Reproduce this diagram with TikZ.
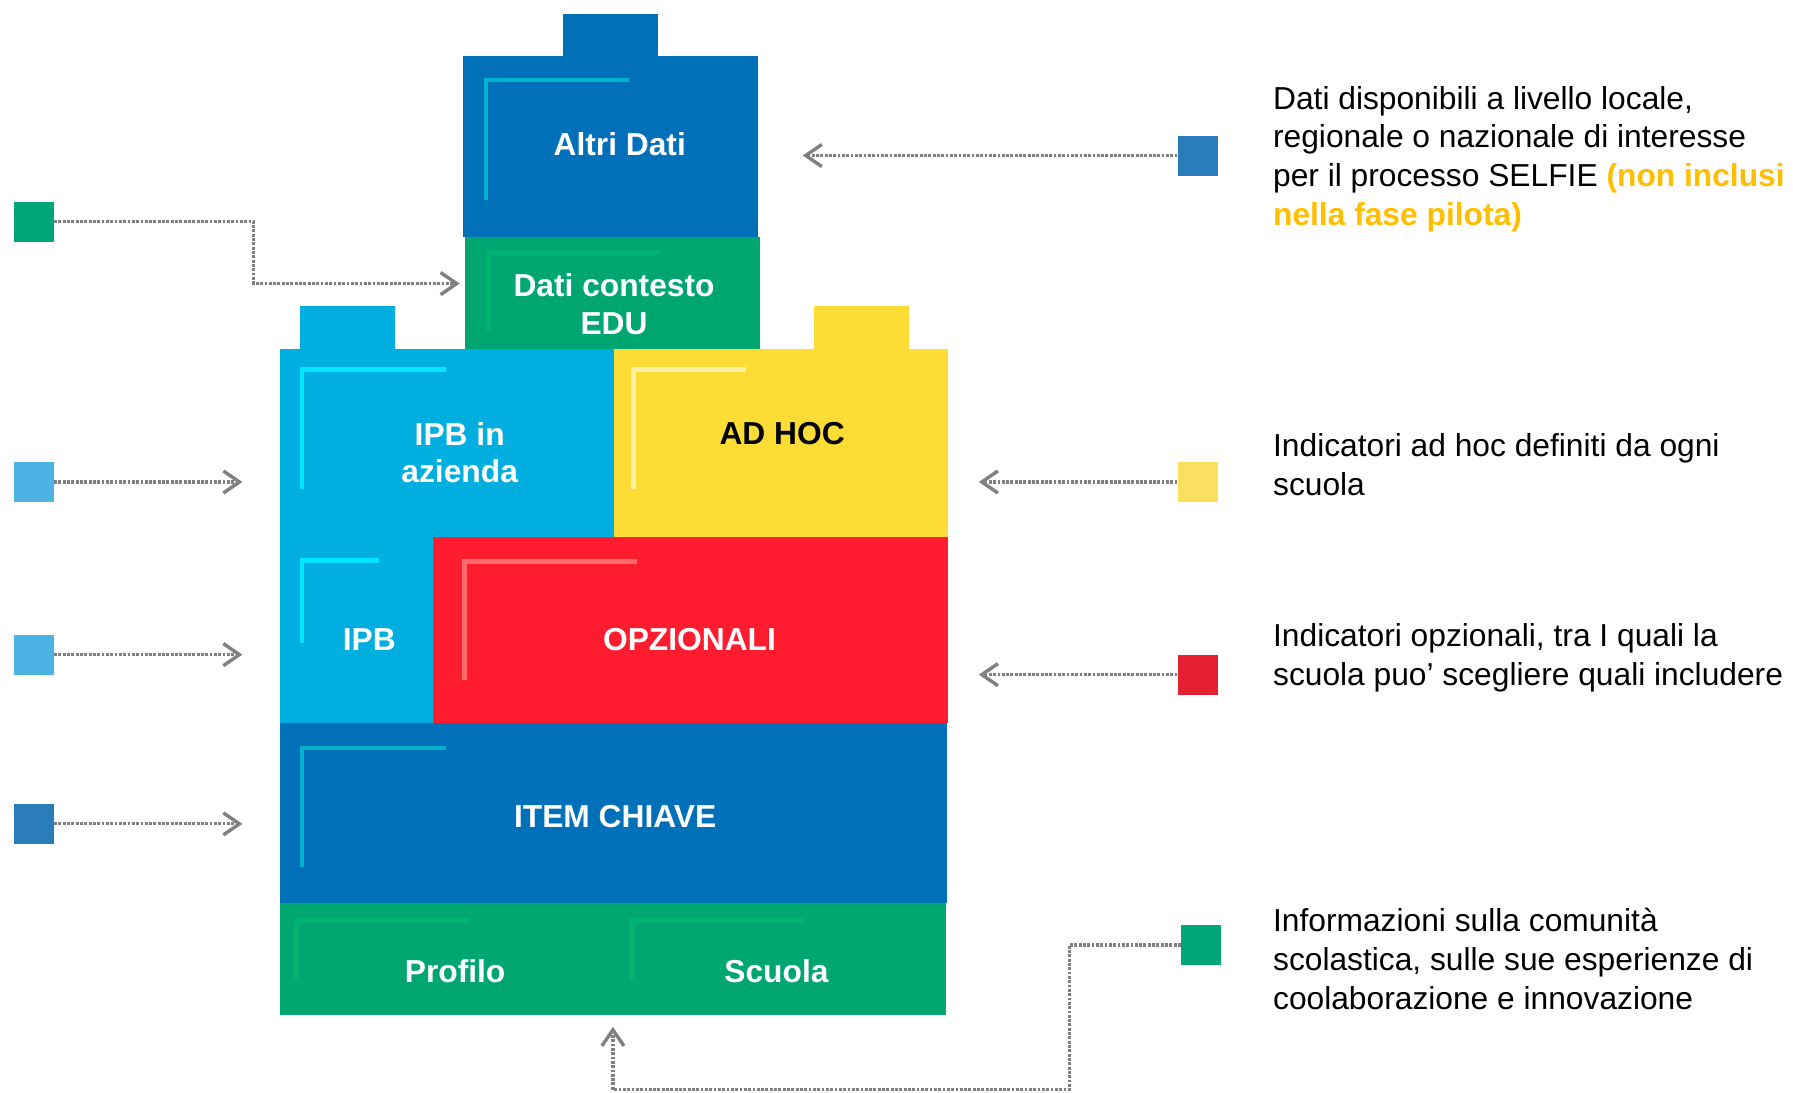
\documentclass[tikz,border=0pt]{standalone}
\usepackage{fontspec}
\setmainfont{Liberation Sans}
\usetikzlibrary{arrows.meta}
\definecolor{dblue}{HTML}{0070B8}
\definecolor{mgreen}{HTML}{00A670}
\definecolor{lblue}{HTML}{00AEE0}
\definecolor{myell}{HTML}{FDDC36}
\definecolor{mred}{HTML}{FF1C2E}
\definecolor{acteal}{HTML}{00B2CC}
\definecolor{acgreen}{HTML}{00B374}
\definecolor{accyan}{HTML}{00E6FF}
\definecolor{acyell}{HTML}{FFF0A8}
\definecolor{acred}{HTML}{FF6A6A}
\definecolor{sqgreen}{HTML}{00A676}
\definecolor{sqlblue}{HTML}{4BB4E2}
\definecolor{sqblue}{HTML}{2A7DBA}
\definecolor{sqyell}{HTML}{FAE05E}
\definecolor{sqred}{HTML}{E42032}
\definecolor{orng}{HTML}{FFBE00}
\definecolor{cgray}{HTML}{808080}
\tikzset{
  sq/.style={draw=none,minimum size=0.7cm,inner sep=0pt},
  lbl/.style={font=\bfseries\fontsize{15.8}{18.7}\selectfont,text=white,align=center,inner sep=0pt},
  desc/.style={font=\fontsize{15.8}{19.3}\selectfont,align=left,anchor=north west,inner sep=0pt},
  conn/.style={cgray,line width=1.6pt,dash pattern=on 1.4pt off 0.75pt,
    -{Straight Barb[length=8pt,width=11pt,line width=1.7pt]}},
  accent/.style={line width=0.08cm}
}
\begin{document}
\begin{tikzpicture}[x=0.02cm,y=-0.02cm]
\useasboundingbox (0,0) rectangle (1568,955);
% ---- blocks ----
\fill[dblue] (492,12) rectangle (575,50);
\fill[dblue] (405,49) rectangle (663,207);
\fill[mgreen] (407,207) rectangle (665,305);
\fill[lblue] (262,268) rectangle (345,306);
\fill[myell] (712,268) rectangle (795,306);
\fill[lblue] (245,305) rectangle (537,470);
\fill[lblue] (245,469) rectangle (379,632);
\fill[myell] (537,305) rectangle (829,470);
\fill[mred] (379,470) rectangle (829,632);
\fill[dblue] (245,632) rectangle (828,790);
\fill[mgreen] (245,790) rectangle (827,888);
% ---- accents ----
\draw[accent,acteal] (425,175) -- (425,70) -- (550,70);
\draw[accent,acgreen] (427,290) -- (427,221) -- (577,221);
\draw[accent,accyan] (264,428) -- (264,323) -- (390,323);
\draw[accent,acyell] (554,428) -- (554,323) -- (652,323);
\draw[accent,accyan] (264,562) -- (264,490) -- (331,490);
\draw[accent,acred] (406,595) -- (406,491) -- (557,491);
\draw[accent,acteal] (264,758) -- (264,654) -- (390,654);
\draw[accent,acgreen] (259,858) -- (259,805) -- (410,805);
\draw[accent,acgreen] (552,858) -- (552,805) -- (703,805);
% ---- labels ----
\node[lbl] (altri) at (542,126) {Altri Dati};
\node[lbl] (edu) at (537,266) {Dati contesto\\EDU};
\node[lbl] (ipbaz) at (402,396) {IPB in\\azienda};
\node[lbl,text=black] (adhoc) at (684,379) {AD HOC};
\node[lbl] (ipb) at (323,559) {IPB};
\node[lbl] (opz) at (603,559) {OPZIONALI};
\node[lbl] (item) at (538,714) {ITEM CHIAVE};
\node[lbl] (prof) at (398,849) {Profilo};
\node[lbl] (scu) at (679,849) {Scuola};
% ---- legend squares ----
\node[sq,fill=sqgreen] (lA) at (29.5,194) {};
\node[sq,fill=sqlblue] (lB) at (29.5,421.5) {};
\node[sq,fill=sqlblue] (lC) at (29.5,572.5) {};
\node[sq,fill=sqblue] (lD) at (29.5,720.5) {};
\node[sq,fill=sqblue] (rA) at (1047.5,136) {};
\node[sq,fill=sqyell] (rB) at (1047.5,421.5) {};
\node[sq,fill=sqred] (rC) at (1047.5,590) {};
\node[sq,fill=sqgreen] (rD) at (1050.5,826.5) {};
% ---- connector ends ----
\coordinate (kA) at (222,248);
\coordinate (tA) at (402,248);
\coordinate (tB) at (212,421.5);
\coordinate (tC) at (212,572.5);
\coordinate (tD) at (212,720.5);
\coordinate (uA) at (702,136);
\coordinate (uB) at (856,421.5);
\coordinate (uC) at (856,590);
\coordinate (kD) at (935,953);
\coordinate (kE) at (536,953);
\coordinate (uD) at (536,898);
% ---- connectors ----
\draw[conn] (lA.east) -| (kA) -- (tA);
\draw[conn] (lB.east) -- (tB);
\draw[conn] (lC.east) -- (tC);
\draw[conn] (lD.east) -- (tD);
\draw[conn] (rA.west) -- (uA);
\draw[conn] (rB.west) -- (uB);
\draw[conn] (rC.west) -- (uC);
\draw[conn] (rD.west) -| (kD) -- (kE) -- (uD);
% ---- descriptions ----
\node[desc] (dA) at (1113,75) {Dati disponibili a livello locale,\\regionale o nazionale di interesse\\per il processo SELFIE {\bfseries\color{orng}(non inclusi}\\{\bfseries\color{orng}nella fase pilota)}};
\node[desc] (dB) at (1113,379) {Indicatori ad hoc definiti da ogni\\scuola};
\node[desc] (dC) at (1113,545) {Indicatori opzionali, tra I quali la\\scuola puo’ scegliere quali includere};
\node[desc] (dD) at (1113,794) {Informazioni sulla comunità\\scolastica, sulle sue esperienze di\\coolaborazione e innovazione};
\end{tikzpicture}
\end{document}
